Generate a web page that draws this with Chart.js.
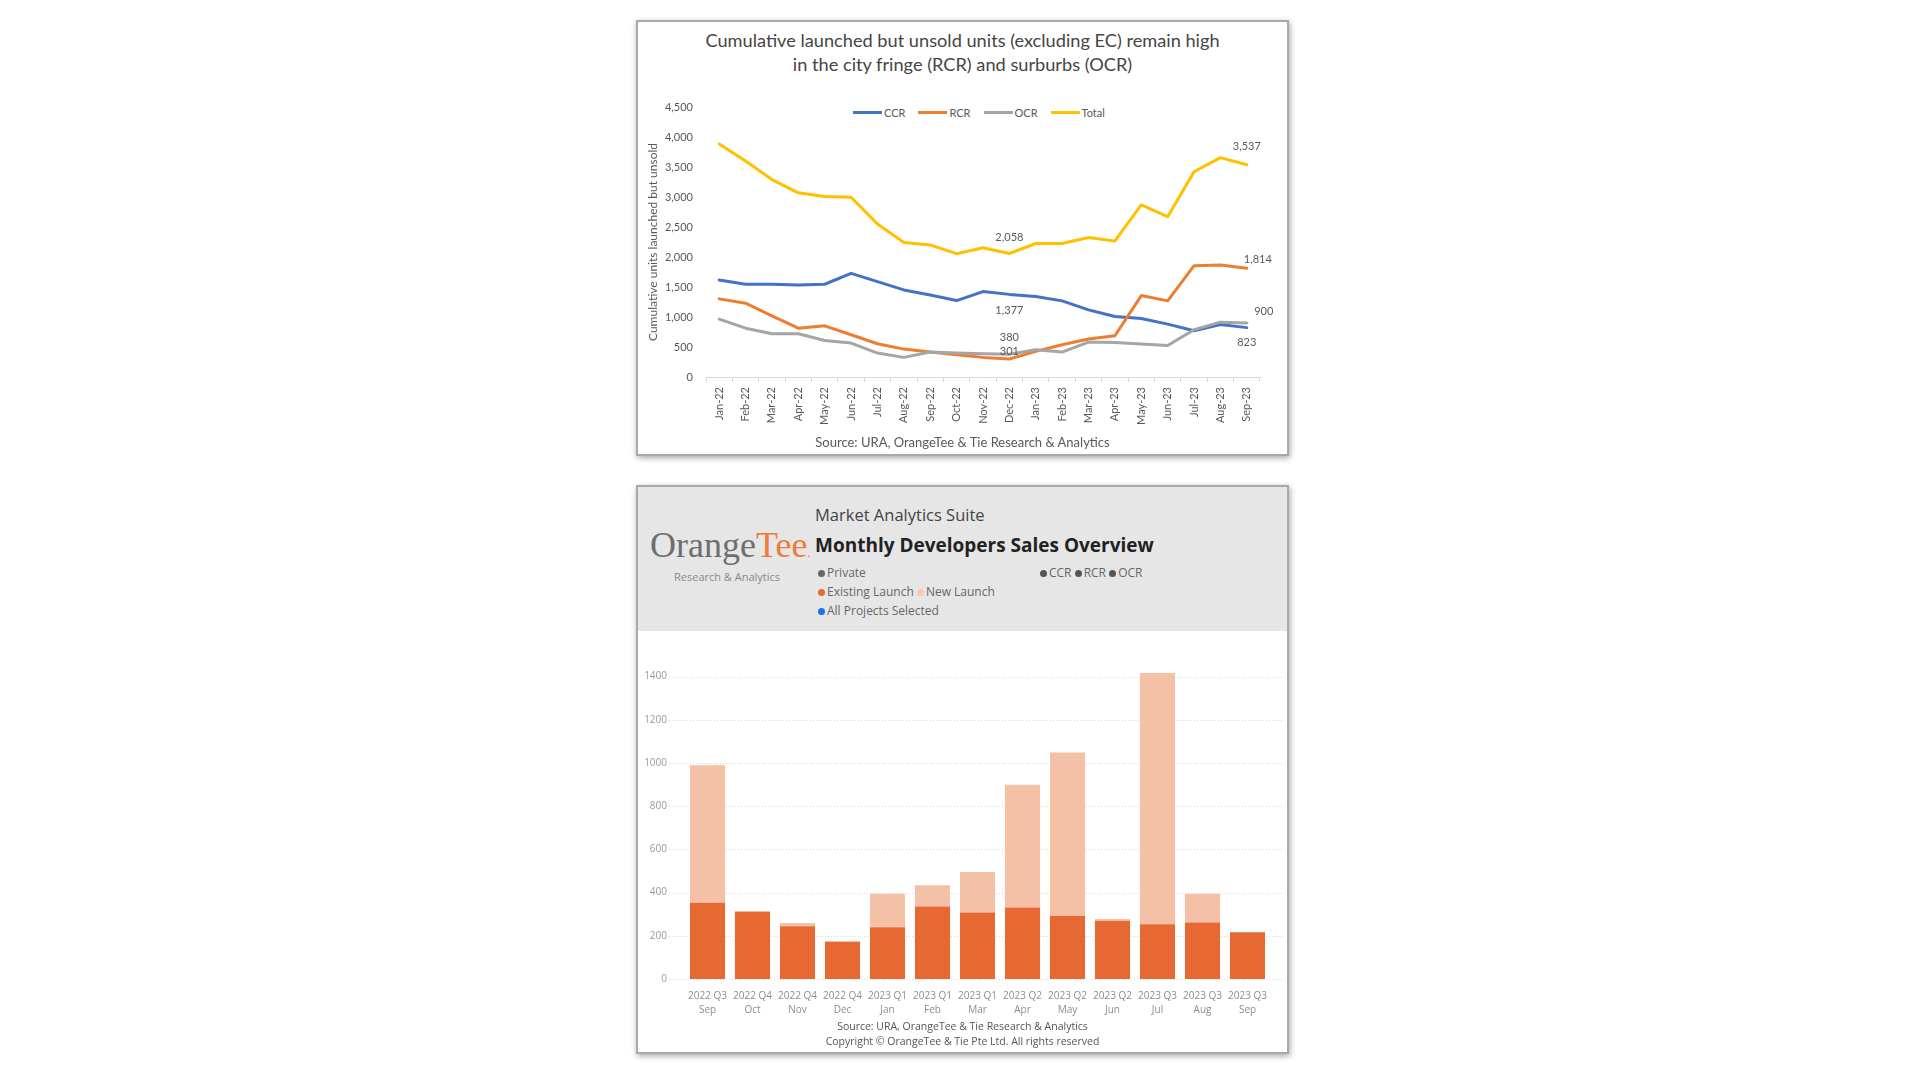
<!DOCTYPE html>
<html>
<head>
<meta charset="utf-8">
<script src="https://cdn.jsdelivr.net/npm/chart.js@4.4.1/dist/chart.umd.min.js"></script>
<style>
  html, body { margin: 0; padding: 0; background: #fff; }
  body { width: 1920px; height: 1080px; position: relative; overflow: hidden; }
  .panel { position: absolute; background: #fff; box-shadow: 0 0 0 2px #a9a9a9, 1px 2px 6px 2px rgba(0,0,0,.35); }
  .abs { position: absolute; white-space: nowrap; }
  .cv { position: absolute; }
  .xl { font-family: Lato, "Open Sans", sans-serif; color: #595959; }
  .pbi { font-family: "Open Sans", "Noto Sans", sans-serif; }
  .dot { display: inline-block; width: 7px; height: 7px; border-radius: 50%; margin-right: 2px; vertical-align: 0px; }
  #legendTop { display: flex; align-items: center; font-size: 11px; }
  #legendTop .item { display: flex; align-items: center; margin-right: 13px; }
  #legendTop .ln { width: 29px; height: 3px; margin-right: 2px; }
</style>
</head>
<body>

<!-- top panel: unsold units -->
<div class="panel" style="left:638px;top:22px;width:649px;height:432px;"></div>
<div class="abs xl" style="left:638px;top:28px;width:649px;text-align:center;font-size:18.2px;line-height:24px;color:#454545;">
  Cumulative launched but unsold units (excluding EC) remain high<br>in the city fringe (RCR) and surburbs (OCR)
</div>
<div id="legendTop" class="abs xl" style="left:853px;top:104px;height:16px;"></div>
<div class="cv" style="left:638px;top:22px;width:649px;height:432px;"><canvas id="unsoldChart"></canvas></div>
<div class="abs xl" style="left:638px;top:434px;width:649px;text-align:center;font-size:13px;line-height:17px;">
  Source: URA, OrangeTee &amp; Tie Research &amp; Analytics
</div>

<!-- bottom panel: developer sales -->
<div class="panel" style="left:638px;top:487px;width:649px;height:565px;"></div>
<div class="abs" style="left:638px;top:487px;width:649px;height:144px;background:#e6e6e6;"></div>
<div class="abs" style="left:650px;top:528px;font-family:'Liberation Serif',serif;font-size:36px;line-height:35px;color:#6e6e6e;">
  Orange<span style="color:#ef7b3c;">Tee</span><span style="color:#ef7b3c;font-size:12px;">.</span>
</div>
<div class="abs pbi" style="left:674px;top:570px;font-size:11px;line-height:14px;color:#8a8a8a;">Research &amp; Analytics</div>
<div class="abs pbi" style="left:815px;top:504px;font-size:16.5px;line-height:22px;color:#444;">Market Analytics Suite</div>
<div class="abs pbi" style="left:815px;top:532px;font-size:19px;line-height:26px;color:#222;font-weight:bold;">Monthly Developers Sales Overview</div>
<div class="abs pbi" style="left:818px;top:565px;font-size:12px;line-height:16px;color:#666;">
  <span class="dot" style="background:#666;"></span>Private
</div>
<div class="abs pbi" style="left:1040px;top:565px;font-size:12px;line-height:16px;color:#666;">
  <span class="dot" style="background:#555;"></span>CCR <span class="dot" style="background:#555;"></span>RCR <span class="dot" style="background:#555;"></span>OCR
</div>
<div class="abs pbi" style="left:818px;top:584px;font-size:12px;line-height:16px;color:#666;">
  <span class="dot" style="background:#e8692e;"></span>Existing Launch <span class="dot" style="background:#f7c9b3;"></span>New Launch
</div>
<div class="abs pbi" style="left:818px;top:603px;font-size:12px;line-height:16px;color:#666;">
  <span class="dot" style="background:#1a73e8;"></span>All Projects Selected
</div>
<div class="cv" style="left:638px;top:631px;width:649px;height:421px;"><canvas id="salesChart"></canvas></div>
<div class="abs pbi" style="left:638px;top:1019px;width:649px;text-align:center;font-size:10.5px;line-height:15px;color:#555;">
  Source: URA, OrangeTee &amp; Tie Research &amp; Analytics<br>Copyright © OrangeTee &amp; Tie Pte Ltd. All rights reserved
</div>

<script>
// ---- unsold units (top chart) ----
var months = ['Jan-22', 'Feb-22', 'Mar-22', 'Apr-22', 'May-22', 'Jun-22', 'Jul-22', 'Aug-22', 'Sep-22', 'Oct-22', 'Nov-22', 'Dec-22',
              'Jan-23', 'Feb-23', 'Mar-23', 'Apr-23', 'May-23', 'Jun-23', 'Jul-23', 'Aug-23', 'Sep-23'];
var ccr   = [1618, 1546, 1546, 1535, 1546, 1728, 1590, 1451, 1368, 1274, 1424, 1377, 1341, 1269, 1119, 1008, 975, 881, 770, 875, 823];
var rcr   = [1302, 1230, 1019, 814, 853, 704, 554, 465, 416, 371, 327, 301, 427, 537, 632, 687, 1357, 1269, 1856, 1867, 1814];
var ocr   = [964, 814, 720, 720, 609, 565, 399, 327, 416, 399, 388, 380, 454, 416, 582, 576, 548, 526, 787, 914, 900];
var total = [3884, 3600, 3290, 3069, 3010, 2995, 2550, 2240, 2200, 2055, 2155, 2058, 2225, 2225, 2325, 2268, 2870, 2672, 3420, 3656, 3537];
var seriesNames = ['CCR', 'RCR', 'OCR', 'Total'];
var unsoldTicks = [0, 500, 1000, 1500, 2000, 2500, 3000, 3500, 4000, 4500];

// ---- developer sales (bottom chart) ----
var quarters = ['2022 Q3', '2022 Q4', '2022 Q4', '2022 Q4', '2023 Q1', '2023 Q1', '2023 Q1', '2023 Q2', '2023 Q2', '2023 Q2', '2023 Q3', '2023 Q3', '2023 Q3'];
var salesMonths = ['Sep', 'Oct', 'Nov', 'Dec', 'Jan', 'Feb', 'Mar', 'Apr', 'May', 'Jun', 'Jul', 'Aug', 'Sep'];
var existingLaunch = [353, 311, 244, 171, 240, 336, 308, 331, 292, 270, 253, 262, 216];
var newLaunch      = [637, 4, 15, 5, 155, 98, 187, 568, 757, 8, 1164, 133, 0];

(function () {
    'use strict';

    var lineColors = ['#4472c4', '#ed7d31', '#a5a5a5', '#ffc000'];
    var seriesData = [ccr, rcr, ocr, total];
    var xlFont = 'Lato, "Open Sans", sans-serif';

    /* ─── HTML legend for the line chart ─── */
    var lg = document.getElementById('legendTop');
    seriesNames.forEach(function (name, i) {
        var it = document.createElement('div');
        it.className = 'item';
        it.innerHTML = '<span class="ln" style="background:' + lineColors[i] + '"></span>' + name;
        lg.appendChild(it);
    });

    // which points carry a value label, and where it sits relative to the point
    var pointLabels = [
        { series: 3, index: 11, dx: 0, dy: -16 },
        { series: 0, index: 11, dx: 0, dy: 16 },
        { series: 2, index: 11, dx: 0, dy: -17 },
        { series: 1, index: 11, dx: 0, dy: -7 },
        { series: 3, index: 20, dx: 0, dy: -18 },
        { series: 1, index: 20, dx: 11, dy: -9 },
        { series: 2, index: 20, dx: 17, dy: -12 },
        { series: 0, index: 20, dx: 0, dy: 15 }
    ];

    var valueLabels = {
        id: 'valueLabels',
        afterDatasetsDraw: function (chart) {
            var ctx = chart.ctx;
            ctx.save();
            ctx.font = '11px ' + xlFont;
            ctx.fillStyle = '#595959';
            ctx.textAlign = 'center';
            ctx.textBaseline = 'middle';
            pointLabels.forEach(function (p) {
                var el = chart.getDatasetMeta(p.series).data[p.index];
                var v = chart.data.datasets[p.series].data[p.index];
                ctx.fillText(v.toLocaleString('en-US'), el.x + p.dx, el.y + p.dy);
            });
            ctx.restore();
        }
    };

    new Chart(document.getElementById('unsoldChart'), {
        type: 'line',
        data: {
            labels: months,
            datasets: seriesNames.map(function (name, i) {
                return {
                    label: name,
                    data: seriesData[i],
                    borderColor: lineColors[i],
                    backgroundColor: lineColors[i],
                    borderWidth: 3,
                    pointRadius: 0,
                    tension: 0,
                    borderJoinStyle: 'round',
                    borderCapStyle: 'round',
                    order: 4 - i
                };
            })
        },
        options: {
            responsive: true,
            maintainAspectRatio: false,
            animation: false,
            layout: { padding: { top: 85, right: 27, left: 0, bottom: 0 } },
            plugins: { legend: { display: false }, tooltip: { enabled: false } },
            scales: {
                x: {
                    offset: true,
                    afterFit: function (s) { s.height = 77; },
                    grid: { display: true, drawOnChartArea: false, drawTicks: true, tickLength: 5, color: '#d9d9d9', offset: true },
                    border: { display: true, color: '#d9d9d9' },
                    ticks: { autoSkip: false, minRotation: 90, maxRotation: 90, padding: 5, color: '#595959', font: { family: xlFont, size: 11 } }
                },
                y: {
                    min: 0,
                    max: 4500,
                    afterFit: function (s) { s.width = 68; },
                    afterBuildTicks: function (s) { s.ticks = unsoldTicks.map(function (v) { return { value: v }; }); },
                    grid: { display: false, drawTicks: false },
                    border: { display: false },
                    ticks: {
                        padding: 13,
                        color: '#595959',
                        font: { family: xlFont, size: 11 },
                        callback: function (v) { return v.toLocaleString('en-US'); }
                    },
                    title: {
                        display: true,
                        text: 'Cumulative units launched but unsold',
                        color: '#595959',
                        font: { family: xlFont, size: 12 },
                        padding: { top: 8, bottom: 4 }
                    }
                }
            }
        },
        plugins: [valueLabels]
    });

    /* ─── Monthly developer sales bars ─── */
    var pbiFont = '"Open Sans", "Noto Sans", sans-serif';

    // dotted gridlines run a little past the bar area, as in the original
    var dottedGrid = {
        id: 'dottedGrid',
        beforeDatasetsDraw: function (chart) {
            var ctx = chart.ctx, y = chart.scales.y;
            ctx.save();
            ctx.strokeStyle = '#d6d6d6';
            ctx.lineWidth = 1;
            ctx.setLineDash([1, 2]);
            y.ticks.forEach(function (t) {
                var py = Math.round(y.getPixelForValue(t.value)) + 0.5;
                ctx.beginPath();
                ctx.moveTo(31, py);
                ctx.lineTo(644, py);
                ctx.stroke();
            });
            ctx.restore();
        }
    };

    new Chart(document.getElementById('salesChart'), {
        type: 'bar',
        data: {
            labels: quarters.map(function (q, i) { return [q, salesMonths[i]]; }),
            datasets: [
                { label: 'Existing Launch', data: existingLaunch, backgroundColor: '#e66934', barPercentage: 0.78, categoryPercentage: 1 },
                { label: 'New Launch', data: newLaunch, backgroundColor: '#f4c0a6', barPercentage: 0.78, categoryPercentage: 1 }
            ]
        },
        options: {
            responsive: true,
            maintainAspectRatio: false,
            animation: false,
            layout: { padding: { top: 18, right: 17, left: 0, bottom: 0 } },
            plugins: { legend: { display: false }, tooltip: { enabled: false } },
            scales: {
                x: {
                    stacked: true,
                    afterFit: function (s) { s.height = 73; },
                    grid: { display: false },
                    border: { display: false },
                    ticks: { autoSkip: false, maxRotation: 0, padding: 3, color: '#8c8c8c', font: { family: pbiFont, size: 10, lineHeight: 1.33 } }
                },
                y: {
                    stacked: true,
                    min: 0,
                    max: 1500,
                    afterFit: function (s) { s.width = 47; },
                    afterBuildTicks: function (s) { s.ticks = s.ticks.filter(function (t) { return t.value % 200 === 0; }); },
                    grid: { display: false, drawTicks: false },
                    border: { display: false },
                    ticks: { stepSize: 200, padding: 18, color: '#999', font: { family: pbiFont, size: 10 }, callback: function (v) { return String(v); } }
                }
            }
        },
        plugins: [dottedGrid]
    });
})();
</script>
</body>
</html>
